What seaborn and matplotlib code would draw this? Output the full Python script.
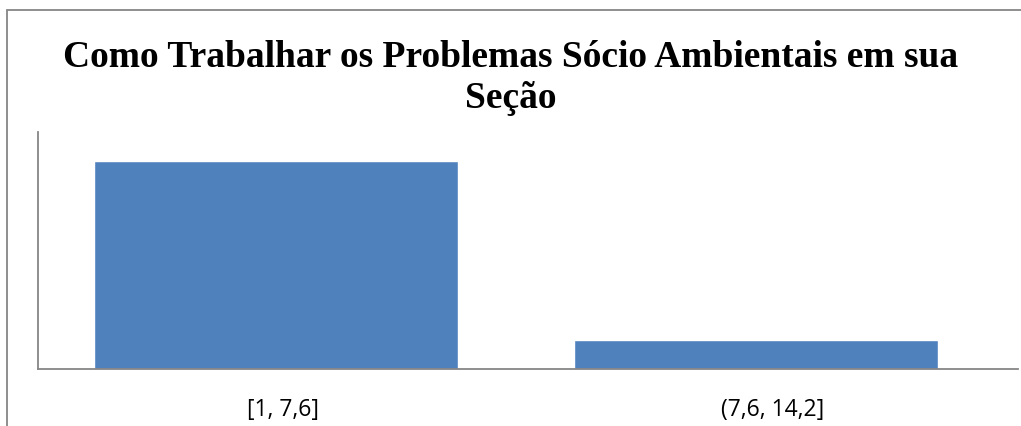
import matplotlib
matplotlib.use("Agg")
import matplotlib.pyplot as plt
import numpy as np
import pandas as pd
import seaborn as sns
from matplotlib.patches import Rectangle

# dados
categorias = ['[1, 7,6]', '(7,6, 14,2]']
contagens = [43, 6]
titulo = 'Como Trabalhar os Problemas Sócio Ambientais em sua\nSeção'

df = pd.DataFrame({'classe': categorias, 'n': contagens})

sns.set_style('white')
plt.rcParams['font.family'] = ['Open Sans', 'DejaVu Sans']
plt.rcParams['text.color'] = 'black'

fig = plt.figure(figsize=(10.21, 4.27), dpi=100)
W, H = 1021, 427
# área do gráfico em pixels
x0, x1, y0, y1 = 38, 1018, 133, 370
ax = fig.add_axes([x0 / W, 1 - y1 / H, (x1 - x0) / W, (y1 - y0) / H])

sns.barplot(data=df, x='classe', y='n', color='#4f81bd', width=0.758,
            saturation=1, ax=ax)
ax.set_ylim(0, 43 * 237 / 208)
ax.set_xlim(-0.496, 1.546)
# rótulos ficam um pouco à direita do centro das barras, como no original
ax.set_xticks([0.015, 1.035])
ax.set_xticklabels(categorias)
ax.set_xlabel('')
ax.set_ylabel('')
ax.set_yticks([])
ax.tick_params(axis='x', length=0, labelsize=16.5, pad=20, colors='black')
for s in ['top', 'right']:
    ax.spines[s].set_visible(False)
for s in ['left', 'bottom']:
    ax.spines[s].set_color('#868686')
    ax.spines[s].set_linewidth(1.3)

fig.text(0.5, 1 - 78 / H, titulo, ha='center', va='center', color='black',
         family='Liberation Serif', fontweight='bold', fontsize=27,
         linespacing=1.25)

# borda da área do gráfico (cortada à direita e embaixo)
fig.patches.append(Rectangle((7 / W, -0.05), 1.2, 1 - 11 / H + 0.05,
                             transform=fig.transFigure, fill=False,
                             edgecolor='#868686', linewidth=1.3))

fig.savefig('out.png', dpi=100)
